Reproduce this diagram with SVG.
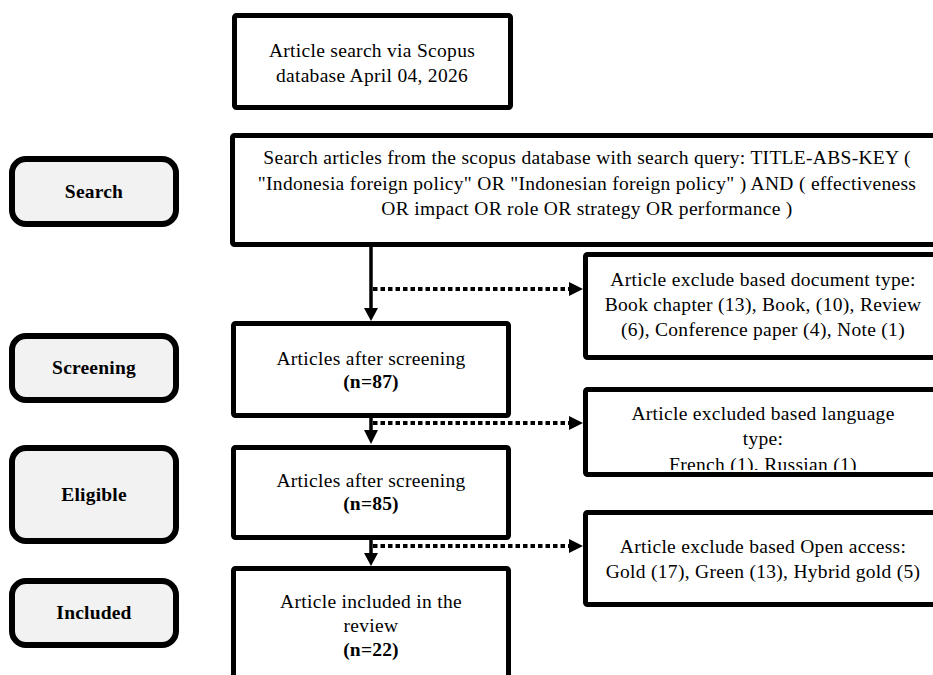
<svg xmlns="http://www.w3.org/2000/svg" width="933" height="675" viewBox="0 0 933 675">
<defs>
<style>
.bx{fill:#fff;stroke:#000;stroke-width:5}
.pill{fill:#f2f2f2;stroke:#000;stroke-width:6}
.t{font-family:"Liberation Serif","Times New Roman",serif;font-size:19.5px;letter-spacing:0.3px;fill:#000;text-anchor:middle}
.b{font-weight:bold;letter-spacing:0.2px}
.ln{stroke:#000;stroke-width:3.5;fill:none}
.dot{stroke:#000;stroke-width:4;fill:none;stroke-dasharray:4.5 3}
.ah{fill:#000}
</style>
<clipPath id="clip2"><rect x="580" y="380" width="360" height="90"/></clipPath>
</defs>
<rect width="933" height="675" fill="#fff"/>

<g id="connectors">
<line class="ln" x1="371" y1="247" x2="371" y2="310"/>
<polygon class="ah" points="364,308 378,308 371,321"/>
<line class="dot" x1="373" y1="289" x2="570" y2="289"/>
<polygon class="ah" points="569,282 569,296 583,289"/>
<line class="ln" x1="371" y1="418" x2="371" y2="432"/>
<polygon class="ah" points="364,430 378,430 371,444"/>
<line class="dot" x1="373" y1="423" x2="570" y2="423"/>
<polygon class="ah" points="569,416 569,430 583,423"/>
<line class="ln" x1="371" y1="540" x2="371" y2="555"/>
<polygon class="ah" points="364,553 378,553 371,566"/>
<line class="dot" x1="373" y1="546" x2="570" y2="546"/>
<polygon class="ah" points="569,539 569,553 583,546"/>
</g>

<g id="start">
<rect class="bx" x="234.5" y="15.5" width="276" height="92" rx="2"/>
<text class="t" x="372" y="57">Article search via Scopus</text>
<text class="t" x="372" y="82">database April 04, 2026</text>
</g>

<g id="query">
<rect class="bx" x="232.5" y="135.5" width="720" height="109" rx="2"/>
<text class="t" x="587" y="164">Search articles from the scopus database with search query: TITLE-ABS-KEY (</text>
<text class="t" x="587" y="190">"Indonesia foreign policy" OR "Indonesian foreign policy" ) AND ( effectiveness</text>
<text class="t" x="587" y="215">OR impact OR role OR strategy OR performance )</text>
</g>

<g id="stage-search">
<rect class="pill" x="12" y="159" width="164" height="65" rx="14"/>
<text class="t b" x="94" y="198">Search</text>
</g>
<g id="stage-screening">
<rect class="pill" x="12" y="336" width="164" height="64" rx="14"/>
<text class="t b" x="94" y="374">Screening</text>
</g>
<g id="stage-eligible">
<rect class="pill" x="12" y="448" width="164" height="93" rx="14"/>
<text class="t b" x="94" y="501">Eligible</text>
</g>
<g id="stage-included">
<rect class="pill" x="12" y="581" width="164" height="64" rx="14"/>
<text class="t b" x="94" y="619">Included</text>
</g>

<g id="screened">
<rect class="bx" x="233.5" y="323.5" width="275" height="92" rx="2"/>
<text class="t" x="371" y="365">Articles after screening</text>
<text class="t b" x="371" y="388">(n=87)</text>
</g>
<g id="eligible">
<rect class="bx" x="233.5" y="447.5" width="275" height="90" rx="2"/>
<text class="t" x="371" y="487">Articles after screening</text>
<text class="t b" x="371" y="510">(n=85)</text>
</g>
<g id="included">
<rect class="bx" x="233.5" y="568.5" width="275" height="130" rx="2"/>
<text class="t" x="371" y="608">Article included in the</text>
<text class="t" x="371" y="632">review</text>
<text class="t b" x="371" y="656">(n=22)</text>
</g>

<g id="excl-doctype">
<rect class="bx" x="585.5" y="254.5" width="360" height="103" rx="2"/>
<text class="t" x="763" y="286">Article exclude based document type:</text>
<text class="t" x="763" y="311">Book chapter (13), Book, (10), Review</text>
<text class="t" x="763" y="336">(6), Conference paper (4), Note (1)</text>
</g>
<g id="excl-language">
<rect class="bx" x="585.5" y="389.5" width="360" height="85" rx="2"/>
<g clip-path="url(#clip2)">
<text class="t" x="763" y="420">Article excluded based language</text>
<text class="t" x="763" y="445">type:</text>
<text class="t" x="763" y="471">French (1). Russian (1)</text>
</g>
</g>
<g id="excl-open">
<rect class="bx" x="585.5" y="512.5" width="360" height="92" rx="2"/>
<text class="t" x="763" y="553">Article exclude based Open access:</text>
<text class="t" x="763" y="578">Gold (17), Green (13), Hybrid gold (5)</text>
</g>
</svg>
